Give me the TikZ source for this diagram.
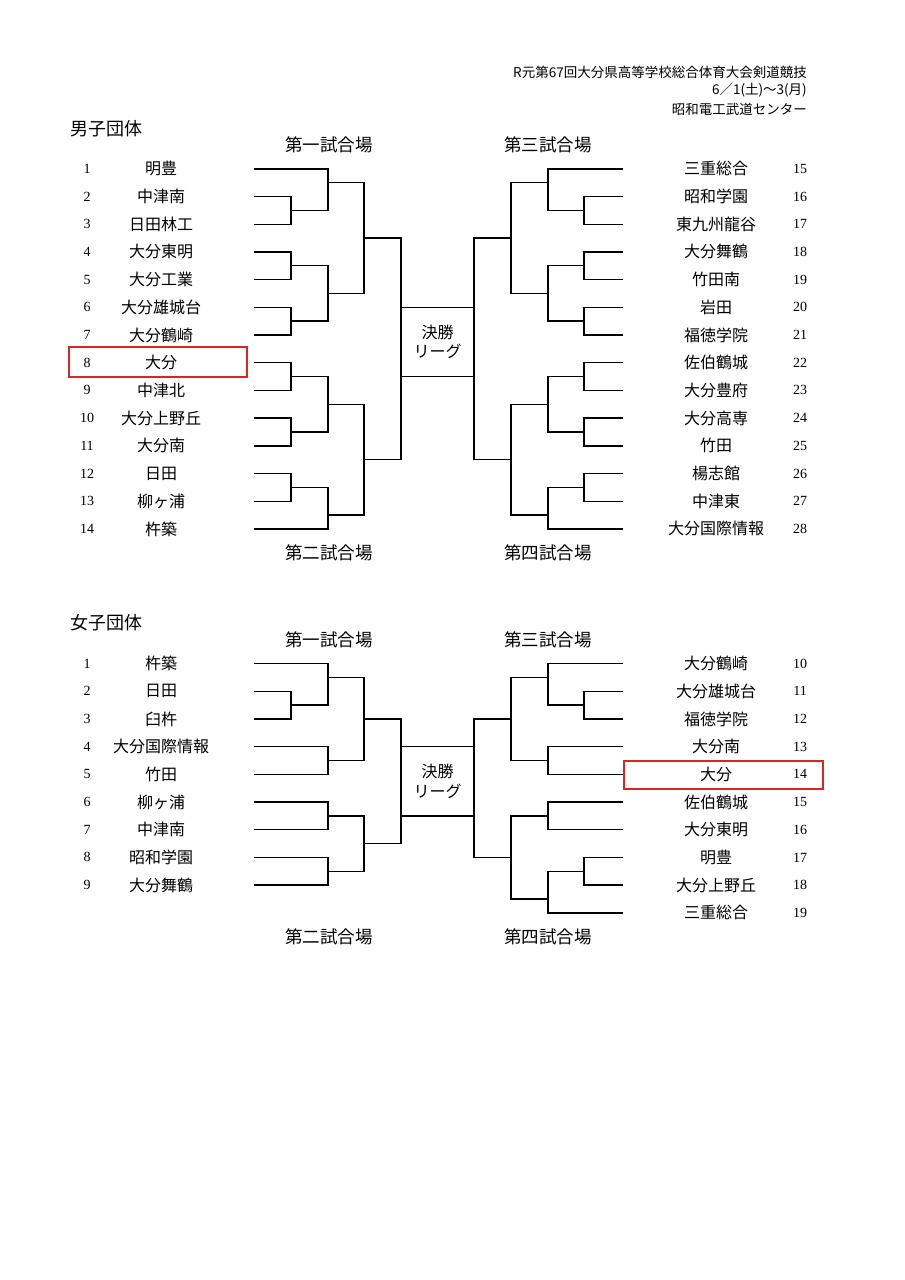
\documentclass[tikz,border=0pt]{standalone}
\usepackage{fontspec}
\setmainfont{Noto Sans CJK JP}
\newfontfamily\numfont{Liberation Serif}
\usepackage{tikz}
\usepackage{xcolor}
\definecolor{hired}{RGB}{214,38,38}

\begin{document}
\begin{tikzpicture}[x=1pt, y=-1pt, every node/.style={inner sep=0pt}, teamlbl/.style={font=\fontsize{16}{16}\selectfont}, numlbl/.style={font=\numfont\fontsize{14}{14}\selectfont}, stagelbl/.style={font=\fontsize{17.5}{17.5}\selectfont}, titlelbl/.style={anchor=west,font=\fontsize{18}{18}\selectfont}, headlbl/.style={anchor=east,font=\fontsize{13.5}{13.5}\selectfont}, finallbl/.style={align=center,font=\fontsize{16}{19.5}\selectfont}, bline/.style={line width=1.4pt,line cap=rect}, hilite/.style={draw=hired,line width=1.4pt}]
  \useasboundingbox[fill=white] (0,0) rectangle (905,1280);
  % header
  \node[headlbl] (h1) at (807,72) {R元第67回大分県高等学校総合体育大会剣道競技};
  \node[headlbl] (h2) at (807,90.5) {6／1(土)～3(月)};
  \node[headlbl] (h3) at (807,109) {昭和電工武道センター};

  % ---- men ----
  \node[titlelbl] (mtitle) at (70,129) {男子団体};
  \node[stagelbl] (ms1) at (329,145) {第一試合場};
  \node[stagelbl] (ms3) at (548,145) {第三試合場};
  \node[stagelbl] (ms2) at (329,553) {第二試合場};
  \node[stagelbl] (ms4) at (548,553) {第四試合場};
  \foreach \n/\t [evaluate=\n as \y using 168.8+(\n-1)*27.7] in {1/明豊,2/中津南,3/日田林工,4/大分東明,5/大分工業,6/大分雄城台,7/大分鶴崎,8/大分,9/中津北,10/大分上野丘,11/大分南,12/日田,13/柳ヶ浦,14/杵築}
    {\node[teamlbl] (mt\n) at (161,\y) {\t}; \node[numlbl] (mn\n) at (87,\y) {\n};}
  \foreach \n/\t [evaluate=\n as \y using 168.8+(\n-15)*27.7] in {15/三重総合,16/昭和学園,17/東九州龍谷,18/大分舞鶴,19/竹田南,20/岩田,21/福徳学院,22/佐伯鶴城,23/大分豊府,24/大分高専,25/竹田,26/楊志館,27/中津東,28/大分国際情報}
    {\node[teamlbl] (mt\n) at (716,\y) {\t}; \node[numlbl] (mn\n) at (800,\y) {\n};}
  \draw[hilite] (69,347) rectangle (247,377);
  % leaves
  \foreach \xa/\xb/\y in {255/328/168.8, 255/291/196.5, 255/291/224.2, 255/291/251.9, 255/291/279.6, 255/291/307.3, 255/291/335.0, 255/291/362.7, 255/291/390.4, 255/291/418.1, 255/291/445.8, 255/291/473.5, 255/291/501.2, 255/328/528.9, 548/622/168.8, 584/622/196.5, 584/622/224.2, 584/622/251.9, 584/622/279.6, 584/622/307.3, 584/622/335.0, 584/622/362.7, 584/622/390.4, 584/622/418.1, 584/622/445.8, 584/622/473.5, 584/622/501.2, 548/622/528.9}
    \draw[bline] (\xa,\y) -- (\xb,\y);
  % joints: vertical at xa, winner line at yo to xb
  \foreach \xa/\xb/\ya/\yb/\yo in {291/328/196.5/224.2/210.35, 328/364/168.8/210.35/182.65, 291/328/251.9/279.6/265.75, 291/328/307.3/335.0/321.15, 328/364/265.75/321.15/293.45, 364/401/182.65/293.45/238.05, 291/328/362.7/390.4/376.55, 291/328/418.1/445.8/431.95, 328/364/376.55/431.95/404.25, 291/328/473.5/501.2/487.35, 328/364/487.35/528.9/515.05, 364/401/404.25/515.05/459.65, 584/548/196.5/224.2/210.35, 548/511/168.8/210.35/182.65, 584/548/251.9/279.6/265.75, 584/548/307.3/335.0/321.15, 548/511/265.75/321.15/293.45, 511/474/182.65/293.45/238.05, 584/548/362.7/390.4/376.55, 584/548/418.1/445.8/431.95, 548/511/376.55/431.95/404.25, 584/548/473.5/501.2/487.35, 548/511/487.35/528.9/515.05, 511/474/404.25/515.05/459.65}
    {\draw[bline] (\xa,\ya) -- (\xa,\yb); \draw[bline] (\xa,\yo) -- (\xb,\yo);}
  \draw[bline] (401,238.05) -- (401,459.65);
  \draw[bline] (474,238.05) -- (474,459.65);
  \draw[bline] (401,307.3) -- (474,307.3);
  \draw[bline] (401,376.55) -- (474,376.55);
  \node[finallbl] (mfinal) at (437.5,342) {決勝\\リーグ};

  % ---- women ----
  \node[titlelbl] (wtitle) at (70,623) {女子団体};
  \node[stagelbl] (ws1) at (329,640) {第一試合場};
  \node[stagelbl] (ws3) at (548,640) {第三試合場};
  \node[stagelbl] (ws2) at (329,937) {第二試合場};
  \node[stagelbl] (ws4) at (548,937) {第四試合場};
  \foreach \n/\t [evaluate=\n as \y using 663.5+(\n-1)*27.7] in {1/杵築,2/日田,3/臼杵,4/大分国際情報,5/竹田,6/柳ヶ浦,7/中津南,8/昭和学園,9/大分舞鶴}
    {\node[teamlbl] (wt\n) at (161,\y) {\t}; \node[numlbl] (wn\n) at (87,\y) {\n};}
  \foreach \n/\t [evaluate=\n as \y using 663.5+(\n-10)*27.7] in {10/大分鶴崎,11/大分雄城台,12/福徳学院,13/大分南,14/大分,15/佐伯鶴城,16/大分東明,17/明豊,18/大分上野丘,19/三重総合}
    {\node[teamlbl] (wt\n) at (716,\y) {\t}; \node[numlbl] (wn\n) at (800,\y) {\n};}
  \draw[hilite] (624,761) rectangle (823,789);
  \foreach \xa/\xb/\y in {255/328/663.5, 255/291/691.2, 255/291/718.9, 255/328/746.6, 255/328/774.3, 255/328/802.0, 255/328/829.7, 255/328/857.4, 255/328/885.1, 548/622/663.5, 584/622/691.2, 584/622/718.9, 548/622/746.6, 548/622/774.3, 548/622/802.0, 548/622/829.7, 584/622/857.4, 584/622/885.1, 548/622/912.8}
    \draw[bline] (\xa,\y) -- (\xb,\y);
  \foreach \xa/\xb/\ya/\yb/\yo in {291/328/691.2/718.9/705.05, 328/364/663.5/705.05/677.35, 328/364/746.6/774.3/760.45, 364/401/677.35/760.45/718.9, 328/364/802.0/829.7/815.85, 328/364/857.4/885.1/871.25, 364/401/815.85/871.25/843.55, 584/548/691.2/718.9/705.05, 548/511/663.5/705.05/677.35, 548/511/746.6/774.3/760.45, 511/474/677.35/760.45/718.9, 548/511/802.0/829.7/815.85, 584/548/857.4/885.1/871.25, 548/511/871.25/912.8/898.95, 511/474/815.85/898.95/857.4}
    {\draw[bline] (\xa,\ya) -- (\xa,\yb); \draw[bline] (\xa,\yo) -- (\xb,\yo);}
  \draw[bline] (401,718.9) -- (401,843.55);
  \draw[bline] (474,718.9) -- (474,857.4);
  \draw[bline] (401,746.6) -- (474,746.6);
  \draw[bline] (401,815.85) -- (474,815.85);
  \node[finallbl] (wfinal) at (437.5,781.2) {決勝\\リーグ};
\end{tikzpicture}
\end{document}
